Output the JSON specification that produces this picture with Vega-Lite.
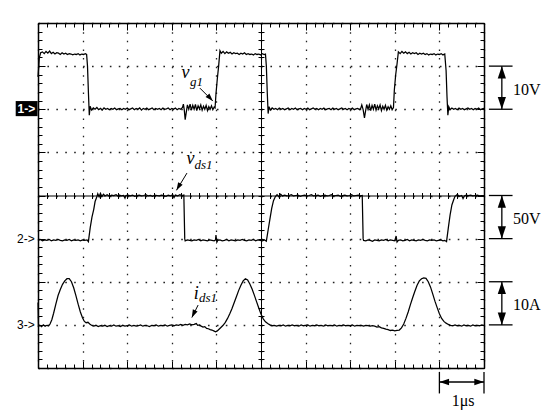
{
"$schema": "https://vega.github.io/schema/vega-lite/v6.json",
"width": 446, "height": 345,
"autosize": {"type": "none"},
"padding": {"left": 38, "top": 23, "right": 66, "bottom": 48},
"background": "white",
"config": {
  "view": {"stroke": null},
  "axis": {"labels": false, "title": null, "grid": false, "domainColor": "black", "tickColor": "black", "gridColor": "#222", "tickWidth": 1, "domainWidth": 1.5},
  "line": {"color": "black", "strokeWidth": 1.25}
},
"datasets": {
  "g": [{"t":0,"v":6.75},{"t":0.03,"v":7.2},{"t":0.06,"v":7.31},{"t":0.1,"v":7.33},{"t":0.14,"v":7.29},{"t":0.18,"v":7.34},{"t":0.22,"v":7.3},{"t":0.26,"v":7.35},{"t":0.3,"v":7.29},{"t":0.34,"v":7.32},{"t":0.38,"v":7.28},{"t":0.42,"v":7.31},{"t":0.46,"v":7.3},{"t":0.5,"v":7.27},{"t":0.54,"v":7.31},{"t":0.58,"v":7.28},{"t":0.62,"v":7.3},{"t":0.66,"v":7.27},{"t":0.7,"v":7.29},{"t":0.74,"v":7.28},{"t":0.78,"v":7.26},{"t":0.82,"v":7.28},{"t":0.86,"v":7.27},{"t":0.9,"v":7.29},{"t":0.94,"v":7.26},{"t":0.98,"v":7.28},{"t":1.02,"v":7.27},{"t":1.06,"v":7.29},{"t":1.09,"v":7.27},{"t":1.11,"v":7.0},{"t":1.13,"v":6.4},{"t":1.15,"v":5.86},{"t":1.17,"v":6.07},{"t":1.2,"v":5.98},{"t":1.24,"v":6.03},{"t":1.28,"v":6.0},{"t":1.32,"v":6.04},{"t":1.36,"v":5.99},{"t":1.4,"v":6.02},{"t":1.44,"v":5.98},{"t":1.48,"v":6.03},{"t":1.52,"v":6.0},{"t":1.56,"v":6.02},{"t":1.6,"v":5.99},{"t":1.64,"v":6.02},{"t":1.68,"v":6.0},{"t":1.72,"v":6.03},{"t":1.76,"v":5.99},{"t":1.8,"v":6.01},{"t":1.84,"v":6.02},{"t":1.88,"v":5.99},{"t":1.92,"v":6.02},{"t":1.96,"v":6.0},{"t":2.0,"v":6.03},{"t":2.04,"v":5.99},{"t":2.08,"v":6.01},{"t":2.12,"v":6.03},{"t":2.16,"v":5.99},{"t":2.2,"v":6.02},{"t":2.24,"v":6.0},{"t":2.28,"v":6.03},{"t":2.32,"v":5.98},{"t":2.36,"v":6.02},{"t":2.4,"v":6.0},{"t":2.44,"v":6.03},{"t":2.48,"v":5.99},{"t":2.52,"v":6.01},{"t":2.56,"v":6.03},{"t":2.6,"v":5.99},{"t":2.64,"v":6.02},{"t":2.68,"v":6.0},{"t":2.72,"v":6.02},{"t":2.76,"v":5.99},{"t":2.8,"v":6.03},{"t":2.84,"v":6.0},{"t":2.88,"v":6.01},{"t":2.92,"v":6.03},{"t":2.96,"v":5.99},{"t":3.0,"v":6.02},{"t":3.04,"v":6.0},{"t":3.08,"v":6.03},{"t":3.12,"v":5.99},{"t":3.16,"v":6.02},{"t":3.2,"v":6.0},{"t":3.24,"v":6.04},{"t":3.26,"v":6.12},{"t":3.28,"v":5.98},{"t":3.3,"v":5.76},{"t":3.32,"v":5.9},{"t":3.35,"v":6.1},{"t":3.38,"v":6.0},{"t":3.41,"v":6.12},{"t":3.44,"v":5.98},{"t":3.47,"v":6.09},{"t":3.5,"v":6.0},{"t":3.53,"v":6.11},{"t":3.56,"v":5.97},{"t":3.59,"v":6.08},{"t":3.62,"v":6.01},{"t":3.65,"v":6.1},{"t":3.68,"v":5.98},{"t":3.71,"v":6.07},{"t":3.74,"v":6.0},{"t":3.77,"v":6.09},{"t":3.8,"v":5.97},{"t":3.83,"v":6.06},{"t":3.86,"v":6.0},{"t":3.89,"v":6.08},{"t":3.92,"v":5.99},{"t":3.95,"v":6.05},{"t":3.97,"v":6.03},{"t":3.99,"v":6.35},{"t":4.02,"v":6.7},{"t":4.05,"v":7.0},{"t":4.08,"v":7.36},{"t":4.11,"v":7.3},{"t":4.15,"v":7.34},{"t":4.19,"v":7.29},{"t":4.23,"v":7.33},{"t":4.27,"v":7.3},{"t":4.31,"v":7.32},{"t":4.35,"v":7.28},{"t":4.39,"v":7.31},{"t":4.43,"v":7.29},{"t":4.47,"v":7.3},{"t":4.51,"v":7.27},{"t":4.55,"v":7.3},{"t":4.59,"v":7.28},{"t":4.63,"v":7.31},{"t":4.67,"v":7.27},{"t":4.71,"v":7.29},{"t":4.75,"v":7.27},{"t":4.79,"v":7.28},{"t":4.83,"v":7.26},{"t":4.87,"v":7.29},{"t":4.91,"v":7.27},{"t":4.95,"v":7.28},{"t":4.99,"v":7.26},{"t":5.03,"v":7.29},{"t":5.07,"v":7.27},{"t":5.1,"v":7.28},{"t":5.12,"v":7.0},{"t":5.14,"v":6.4},{"t":5.16,"v":5.9},{"t":5.18,"v":6.06},{"t":5.21,"v":5.98},{"t":5.25,"v":6.03},{"t":5.29,"v":6.0},{"t":5.33,"v":6.02},{"t":5.37,"v":5.99},{"t":5.41,"v":6.03},{"t":5.45,"v":6.0},{"t":5.49,"v":6.02},{"t":5.53,"v":5.99},{"t":5.57,"v":6.01},{"t":5.61,"v":6.03},{"t":5.65,"v":5.99},{"t":5.69,"v":6.02},{"t":5.73,"v":6.0},{"t":5.77,"v":6.03},{"t":5.81,"v":5.99},{"t":5.85,"v":6.01},{"t":5.89,"v":6.02},{"t":5.93,"v":5.99},{"t":5.97,"v":6.02},{"t":6.01,"v":6.0},{"t":6.05,"v":6.03},{"t":6.09,"v":5.99},{"t":6.13,"v":6.01},{"t":6.17,"v":6.03},{"t":6.21,"v":6.0},{"t":6.25,"v":6.02},{"t":6.29,"v":5.99},{"t":6.33,"v":6.02},{"t":6.37,"v":6.0},{"t":6.41,"v":6.03},{"t":6.45,"v":5.99},{"t":6.49,"v":6.01},{"t":6.53,"v":6.02},{"t":6.57,"v":5.99},{"t":6.61,"v":6.03},{"t":6.65,"v":6.0},{"t":6.69,"v":6.02},{"t":6.73,"v":5.99},{"t":6.77,"v":6.01},{"t":6.81,"v":6.03},{"t":6.85,"v":6.0},{"t":6.89,"v":6.02},{"t":6.93,"v":5.99},{"t":6.97,"v":6.02},{"t":7.01,"v":6.0},{"t":7.05,"v":6.03},{"t":7.09,"v":5.99},{"t":7.13,"v":6.01},{"t":7.17,"v":6.02},{"t":7.21,"v":5.99},{"t":7.24,"v":6.03},{"t":7.26,"v":6.1},{"t":7.29,"v":5.99},{"t":7.32,"v":5.8},{"t":7.34,"v":5.93},{"t":7.37,"v":6.11},{"t":7.4,"v":6.0},{"t":7.43,"v":6.1},{"t":7.46,"v":5.97},{"t":7.49,"v":6.09},{"t":7.52,"v":6.0},{"t":7.55,"v":6.12},{"t":7.58,"v":5.98},{"t":7.61,"v":6.08},{"t":7.64,"v":6.01},{"t":7.67,"v":6.1},{"t":7.7,"v":5.97},{"t":7.73,"v":6.07},{"t":7.76,"v":6.0},{"t":7.79,"v":6.09},{"t":7.82,"v":5.98},{"t":7.85,"v":6.06},{"t":7.88,"v":6.0},{"t":7.91,"v":6.08},{"t":7.94,"v":5.99},{"t":7.97,"v":6.04},{"t":7.99,"v":6.45},{"t":8.02,"v":6.8},{"t":8.05,"v":7.05},{"t":8.08,"v":7.33},{"t":8.12,"v":7.29},{"t":8.16,"v":7.34},{"t":8.2,"v":7.3},{"t":8.24,"v":7.33},{"t":8.28,"v":7.29},{"t":8.32,"v":7.32},{"t":8.36,"v":7.28},{"t":8.4,"v":7.31},{"t":8.44,"v":7.29},{"t":8.48,"v":7.31},{"t":8.52,"v":7.27},{"t":8.56,"v":7.3},{"t":8.6,"v":7.28},{"t":8.64,"v":7.3},{"t":8.68,"v":7.27},{"t":8.72,"v":7.29},{"t":8.76,"v":7.26},{"t":8.8,"v":7.28},{"t":8.84,"v":7.27},{"t":8.88,"v":7.29},{"t":8.92,"v":7.26},{"t":8.96,"v":7.28},{"t":9.0,"v":7.27},{"t":9.04,"v":7.29},{"t":9.08,"v":7.26},{"t":9.12,"v":7.28},{"t":9.15,"v":6.9},{"t":9.17,"v":6.3},{"t":9.19,"v":5.86},{"t":9.21,"v":6.06},{"t":9.24,"v":5.99},{"t":9.28,"v":6.03},{"t":9.32,"v":6.0},{"t":9.36,"v":6.02},{"t":9.4,"v":5.99},{"t":9.44,"v":6.03},{"t":9.48,"v":6.0},{"t":9.52,"v":6.02},{"t":9.56,"v":5.99},{"t":9.6,"v":6.01},{"t":9.64,"v":6.03},{"t":9.68,"v":6.0},{"t":9.72,"v":6.02},{"t":9.76,"v":5.99},{"t":9.8,"v":6.02},{"t":9.84,"v":6.0},{"t":9.88,"v":6.03},{"t":9.92,"v":5.99},{"t":9.96,"v":6.01},{"t":10,"v":6.02}],
  "d": [{"t":0,"v":2.96},{"t":0.05,"v":2.98},{"t":0.1,"v":2.95},{"t":0.15,"v":2.97},{"t":0.2,"v":2.96},{"t":0.25,"v":2.98},{"t":0.3,"v":2.95},{"t":0.35,"v":2.97},{"t":0.4,"v":2.96},{"t":0.45,"v":2.98},{"t":0.5,"v":2.96},{"t":0.55,"v":2.95},{"t":0.6,"v":2.97},{"t":0.65,"v":2.96},{"t":0.7,"v":2.98},{"t":0.75,"v":2.95},{"t":0.8,"v":2.97},{"t":0.85,"v":2.96},{"t":0.9,"v":2.97},{"t":0.95,"v":2.95},{"t":1.0,"v":2.97},{"t":1.05,"v":2.96},{"t":1.1,"v":2.97},{"t":1.13,"v":2.93},{"t":1.17,"v":3.25},{"t":1.21,"v":3.5},{"t":1.25,"v":3.68},{"t":1.28,"v":3.86},{"t":1.31,"v":3.94},{"t":1.34,"v":4.04},{"t":1.37,"v":3.97},{"t":1.4,"v":4.05},{"t":1.43,"v":3.98},{"t":1.47,"v":4.03},{"t":1.5,"v":3.99},{"t":1.55,"v":4.02},{"t":1.6,"v":3.98},{"t":1.65,"v":4.01},{"t":1.7,"v":4.0},{"t":1.75,"v":4.02},{"t":1.8,"v":3.98},{"t":1.82,"v":4.01},{"t":1.87,"v":3.99},{"t":1.92,"v":4.0},{"t":1.95,"v":3.94},{"t":1.97,"v":4.0},{"t":2.02,"v":4.01},{"t":2.07,"v":3.99},{"t":2.12,"v":4.01},{"t":2.17,"v":3.98},{"t":2.22,"v":4.0},{"t":2.27,"v":4.01},{"t":2.32,"v":3.99},{"t":2.37,"v":4.0},{"t":2.42,"v":4.02},{"t":2.47,"v":3.99},{"t":2.52,"v":4.0},{"t":2.57,"v":3.98},{"t":2.62,"v":4.01},{"t":2.67,"v":4.0},{"t":2.72,"v":3.99},{"t":2.77,"v":4.01},{"t":2.82,"v":4.0},{"t":2.87,"v":3.98},{"t":2.92,"v":4.01},{"t":2.97,"v":3.99},{"t":3.02,"v":4.02},{"t":3.05,"v":3.95},{"t":3.08,"v":4.01},{"t":3.13,"v":3.99},{"t":3.18,"v":4.02},{"t":3.22,"v":4.0},{"t":3.27,"v":4.01},{"t":3.29,"v":3.0},{"t":3.3,"v":2.95},{"t":3.35,"v":2.97},{"t":3.4,"v":2.96},{"t":3.45,"v":2.95},{"t":3.5,"v":2.97},{"t":3.55,"v":2.96},{"t":3.6,"v":2.98},{"t":3.65,"v":2.95},{"t":3.7,"v":2.97},{"t":3.75,"v":2.96},{"t":3.8,"v":2.95},{"t":3.85,"v":2.97},{"t":3.9,"v":2.96},{"t":3.95,"v":2.95},{"t":3.98,"v":2.97},{"t":3.99,"v":3.08},{"t":4.01,"v":2.92},{"t":4.03,"v":2.96},{"t":4.08,"v":2.97},{"t":4.13,"v":2.95},{"t":4.18,"v":2.96},{"t":4.23,"v":2.98},{"t":4.28,"v":2.95},{"t":4.33,"v":2.97},{"t":4.38,"v":2.96},{"t":4.43,"v":2.95},{"t":4.48,"v":2.97},{"t":4.53,"v":2.96},{"t":4.58,"v":2.98},{"t":4.63,"v":2.96},{"t":4.68,"v":2.95},{"t":4.73,"v":2.97},{"t":4.78,"v":2.96},{"t":4.83,"v":2.98},{"t":4.88,"v":2.95},{"t":4.93,"v":2.97},{"t":4.98,"v":2.96},{"t":5.03,"v":2.95},{"t":5.08,"v":2.97},{"t":5.12,"v":2.94},{"t":5.16,"v":3.2},{"t":5.2,"v":3.45},{"t":5.24,"v":3.7},{"t":5.28,"v":3.88},{"t":5.32,"v":3.97},{"t":5.36,"v":4.02},{"t":5.4,"v":3.97},{"t":5.44,"v":4.03},{"t":5.48,"v":3.99},{"t":5.53,"v":4.01},{"t":5.58,"v":3.99},{"t":5.63,"v":4.0},{"t":5.68,"v":4.02},{"t":5.73,"v":3.99},{"t":5.78,"v":4.0},{"t":5.83,"v":4.01},{"t":5.88,"v":3.98},{"t":5.93,"v":4.0},{"t":5.98,"v":4.01},{"t":6.03,"v":3.99},{"t":6.08,"v":4.0},{"t":6.13,"v":4.02},{"t":6.18,"v":3.99},{"t":6.23,"v":4.0},{"t":6.28,"v":4.01},{"t":6.33,"v":3.98},{"t":6.38,"v":4.0},{"t":6.43,"v":4.01},{"t":6.48,"v":3.99},{"t":6.53,"v":4.0},{"t":6.58,"v":4.02},{"t":6.63,"v":3.99},{"t":6.68,"v":4.0},{"t":6.73,"v":4.01},{"t":6.78,"v":3.98},{"t":6.83,"v":4.0},{"t":6.88,"v":4.01},{"t":6.93,"v":3.99},{"t":6.98,"v":4.0},{"t":7.03,"v":4.02},{"t":7.08,"v":3.99},{"t":7.13,"v":4.0},{"t":7.18,"v":4.01},{"t":7.23,"v":3.99},{"t":7.27,"v":4.0},{"t":7.29,"v":3.0},{"t":7.3,"v":2.96},{"t":7.35,"v":2.95},{"t":7.4,"v":2.97},{"t":7.45,"v":2.96},{"t":7.5,"v":2.94},{"t":7.55,"v":2.97},{"t":7.6,"v":2.96},{"t":7.65,"v":2.95},{"t":7.7,"v":2.97},{"t":7.75,"v":2.96},{"t":7.8,"v":2.98},{"t":7.85,"v":2.95},{"t":7.9,"v":2.97},{"t":7.95,"v":2.96},{"t":8.0,"v":2.95},{"t":8.03,"v":3.06},{"t":8.05,"v":2.92},{"t":8.08,"v":2.96},{"t":8.13,"v":2.97},{"t":8.18,"v":2.95},{"t":8.23,"v":2.96},{"t":8.28,"v":2.98},{"t":8.33,"v":2.95},{"t":8.38,"v":2.97},{"t":8.43,"v":2.96},{"t":8.48,"v":2.95},{"t":8.53,"v":2.97},{"t":8.58,"v":2.96},{"t":8.63,"v":2.98},{"t":8.68,"v":2.96},{"t":8.73,"v":2.95},{"t":8.78,"v":2.97},{"t":8.83,"v":2.96},{"t":8.88,"v":2.97},{"t":8.93,"v":2.95},{"t":8.98,"v":2.96},{"t":9.03,"v":2.97},{"t":9.08,"v":2.95},{"t":9.12,"v":2.96},{"t":9.16,"v":2.93},{"t":9.2,"v":3.25},{"t":9.24,"v":3.55},{"t":9.28,"v":3.78},{"t":9.32,"v":3.9},{"t":9.35,"v":3.98},{"t":9.4,"v":4.02},{"t":9.45,"v":3.98},{"t":9.5,"v":4.0},{"t":9.53,"v":3.93},{"t":9.56,"v":3.99},{"t":9.6,"v":4.01},{"t":9.65,"v":4.0},{"t":9.7,"v":4.01},{"t":9.75,"v":3.99},{"t":9.8,"v":4.0},{"t":9.85,"v":4.01},{"t":9.9,"v":3.99},{"t":9.95,"v":4.0},{"t":10,"v":4.0}],
  "i": [{"t":0,"v":1.52},{"t":0.01,"v":0.97},{"t":0.04,"v":0.99},{"t":0.08,"v":0.96},{"t":0.12,"v":1.0},{"t":0.16,"v":0.97},{"t":0.2,"v":0.99},{"t":0.24,"v":0.98},{"t":0.27,"v":1.02},{"t":0.31,"v":1.12},{"t":0.35,"v":1.27},{"t":0.4,"v":1.48},{"t":0.45,"v":1.68},{"t":0.5,"v":1.82},{"t":0.55,"v":1.94},{"t":0.6,"v":2.02},{"t":0.65,"v":2.07},{"t":0.7,"v":2.07},{"t":0.75,"v":2.0},{"t":0.8,"v":1.86},{"t":0.85,"v":1.68},{"t":0.9,"v":1.48},{"t":0.95,"v":1.3},{"t":1.0,"v":1.16},{"t":1.04,"v":1.08},{"t":1.08,"v":1.05},{"t":1.12,"v":1.06},{"t":1.16,"v":1.02},{"t":1.2,"v":0.99},{"t":1.25,"v":0.97},{"t":1.3,"v":0.99},{"t":1.35,"v":0.96},{"t":1.4,"v":0.98},{"t":1.45,"v":0.97},{"t":1.5,"v":0.99},{"t":1.55,"v":0.96},{"t":1.6,"v":0.98},{"t":1.65,"v":0.97},{"t":1.7,"v":1.0},{"t":1.75,"v":0.97},{"t":1.8,"v":0.98},{"t":1.85,"v":0.96},{"t":1.9,"v":0.99},{"t":1.95,"v":0.97},{"t":2.0,"v":0.98},{"t":2.05,"v":1.0},{"t":2.1,"v":0.97},{"t":2.15,"v":0.99},{"t":2.2,"v":0.97},{"t":2.25,"v":0.98},{"t":2.3,"v":1.0},{"t":2.35,"v":0.97},{"t":2.4,"v":0.99},{"t":2.45,"v":0.98},{"t":2.5,"v":0.96},{"t":2.55,"v":0.99},{"t":2.6,"v":0.98},{"t":2.65,"v":1.0},{"t":2.7,"v":0.97},{"t":2.75,"v":0.99},{"t":2.8,"v":0.98},{"t":2.85,"v":1.0},{"t":2.9,"v":0.97},{"t":2.95,"v":0.99},{"t":3.0,"v":1.0},{"t":3.05,"v":0.98},{"t":3.1,"v":1.0},{"t":3.15,"v":0.99},{"t":3.2,"v":1.01},{"t":3.25,"v":0.99},{"t":3.3,"v":1.01},{"t":3.35,"v":1.0},{"t":3.4,"v":1.02},{"t":3.45,"v":1.0},{"t":3.5,"v":1.01},{"t":3.55,"v":1.03},{"t":3.58,"v":0.99},{"t":3.62,"v":1.0},{"t":3.66,"v":0.97},{"t":3.7,"v":0.95},{"t":3.74,"v":0.96},{"t":3.78,"v":0.92},{"t":3.82,"v":0.91},{"t":3.86,"v":0.89},{"t":3.9,"v":0.88},{"t":3.94,"v":0.86},{"t":3.98,"v":0.84},{"t":4.02,"v":0.86},{"t":4.06,"v":0.9},{"t":4.1,"v":0.94},{"t":4.15,"v":0.99},{"t":4.2,"v":1.06},{"t":4.25,"v":1.15},{"t":4.3,"v":1.26},{"t":4.35,"v":1.38},{"t":4.4,"v":1.52},{"t":4.45,"v":1.66},{"t":4.5,"v":1.8},{"t":4.55,"v":1.92},{"t":4.6,"v":2.02},{"t":4.65,"v":2.07},{"t":4.7,"v":2.04},{"t":4.75,"v":1.95},{"t":4.8,"v":1.83},{"t":4.85,"v":1.69},{"t":4.9,"v":1.54},{"t":4.95,"v":1.39},{"t":5.0,"v":1.25},{"t":5.05,"v":1.14},{"t":5.1,"v":1.07},{"t":5.15,"v":1.03},{"t":5.2,"v":1.0},{"t":5.25,"v":0.98},{"t":5.3,"v":0.99},{"t":5.35,"v":0.97},{"t":5.4,"v":0.99},{"t":5.45,"v":0.98},{"t":5.5,"v":1.0},{"t":5.55,"v":0.97},{"t":5.6,"v":0.99},{"t":5.65,"v":0.98},{"t":5.7,"v":1.0},{"t":5.75,"v":0.98},{"t":5.8,"v":0.99},{"t":5.85,"v":0.97},{"t":5.9,"v":1.0},{"t":5.95,"v":0.98},{"t":6.0,"v":0.99},{"t":6.05,"v":1.0},{"t":6.1,"v":0.97},{"t":6.15,"v":0.99},{"t":6.2,"v":0.98},{"t":6.25,"v":1.0},{"t":6.3,"v":0.98},{"t":6.35,"v":0.99},{"t":6.4,"v":0.97},{"t":6.45,"v":1.0},{"t":6.5,"v":0.98},{"t":6.55,"v":0.99},{"t":6.6,"v":0.98},{"t":6.65,"v":1.0},{"t":6.7,"v":0.97},{"t":6.75,"v":0.99},{"t":6.8,"v":0.98},{"t":6.85,"v":1.0},{"t":6.9,"v":0.98},{"t":6.95,"v":0.99},{"t":7.0,"v":0.98},{"t":7.05,"v":1.0},{"t":7.1,"v":0.97},{"t":7.15,"v":0.99},{"t":7.2,"v":0.98},{"t":7.25,"v":0.99},{"t":7.3,"v":0.97},{"t":7.35,"v":0.99},{"t":7.4,"v":0.98},{"t":7.45,"v":0.97},{"t":7.5,"v":0.98},{"t":7.55,"v":0.97},{"t":7.6,"v":0.95},{"t":7.65,"v":0.96},{"t":7.7,"v":0.93},{"t":7.75,"v":0.92},{"t":7.8,"v":0.9},{"t":7.85,"v":0.89},{"t":7.9,"v":0.87},{"t":7.95,"v":0.88},{"t":8.0,"v":0.86},{"t":8.05,"v":0.87},{"t":8.1,"v":0.88},{"t":8.15,"v":0.93},{"t":8.2,"v":1.02},{"t":8.25,"v":1.15},{"t":8.3,"v":1.3},{"t":8.35,"v":1.47},{"t":8.4,"v":1.63},{"t":8.45,"v":1.78},{"t":8.5,"v":1.92},{"t":8.55,"v":2.02},{"t":8.6,"v":2.07},{"t":8.65,"v":2.09},{"t":8.7,"v":2.08},{"t":8.75,"v":2.0},{"t":8.8,"v":1.88},{"t":8.85,"v":1.72},{"t":8.9,"v":1.55},{"t":8.95,"v":1.4},{"t":9.0,"v":1.26},{"t":9.05,"v":1.15},{"t":9.1,"v":1.08},{"t":9.15,"v":1.04},{"t":9.2,"v":1.01},{"t":9.25,"v":0.99},{"t":9.3,"v":0.98},{"t":9.35,"v":1.0},{"t":9.4,"v":0.98},{"t":9.45,"v":0.99},{"t":9.5,"v":0.97},{"t":9.55,"v":1.0},{"t":9.6,"v":0.98},{"t":9.65,"v":0.99},{"t":9.7,"v":0.97},{"t":9.75,"v":1.0},{"t":9.8,"v":0.98},{"t":9.85,"v":0.99},{"t":9.9,"v":0.98},{"t":9.95,"v":1.0},{"t":10,"v":0.99}],
  "main": [{"s":"v","t":3.22,"v":6.72},{"s":"v","t":3.33,"v":4.72},{"s":"i","t":3.49,"v":1.6}],
  "subs": [{"s":"g1","t":3.41,"v":6.53},{"s":"ds1","t":3.51,"v":4.62},{"s":"ds1","t":3.61,"v":1.54}],
  "arrows": [{"n":"g","x":3.63,"y":6.49,"x2":3.92,"y2":6.19},{"n":"d","x":3.34,"y":4.52,"x2":3.105,"y2":4.12},{"n":"i","x":3.59,"y":1.46,"x2":3.45,"y2":1.17}],
  "bars": [{"lab":"10V","lo":6,"hi":7},{"lab":"50V","lo":3,"hi":4},{"lab":"10A","lo":1,"hi":2}],
  "chans": [{"lab":"2->","v":3},{"lab":"3->","v":1}]
},
"resolve": {"axis": {"x": "independent", "y": "independent"}},
"layer": [
  {"data": {"name": "g"}, "mark": {"type": "line"},
   "encoding": {
     "x": {"field": "t", "type": "quantitative", "scale": {"domain": [0, 10], "nice": false, "zero": false},
           "axis": {"orient": "bottom", "values": [0,1,2,3,4,5,6,7,8,9,10], "grid": true, "gridDash": [1.6, 7.025], "gridWidth": 1.3, "ticks": true, "tickSize": -7, "domain": true}},
     "y": {"field": "v", "type": "quantitative", "scale": {"domain": [0, 8], "nice": false, "zero": false},
           "axis": {"orient": "left", "values": [0,1,2,3,4,5,6,7,8], "grid": true, "gridDash": [1.6, 7.32], "gridWidth": 1.3, "ticks": true, "tickSize": -7, "domain": true}}}},
  {"data": {"name": "d"}, "mark": {"type": "line"},
   "encoding": {
     "x": {"field": "t", "type": "quantitative", "scale": {"domain": [0, 10], "nice": false, "zero": false},
           "axis": {"orient": "bottom", "values": [0,0.2,0.4,0.6,0.8,1,1.2,1.4,1.6,1.8,2,2.2,2.4,2.6,2.8,3,3.2,3.4,3.6,3.8,4,4.2,4.4,4.6,4.8,5,5.2,5.4,5.6,5.8,6,6.2,6.4,6.6,6.8,7,7.2,7.4,7.6,7.8,8,8.2,8.4,8.6,8.8,9,9.2,9.4,9.6,9.8,10], "tickSize": -4, "domain": false}},
     "y": {"field": "v", "type": "quantitative", "scale": {"domain": [0, 8], "nice": false, "zero": false},
           "axis": {"orient": "left", "values": [0,0.2,0.4,0.6,0.8,1,1.2,1.4,1.6,1.8,2,2.2,2.4,2.6,2.8,3,3.2,3.4,3.6,3.8,4,4.2,4.4,4.6,4.8,5,5.2,5.4,5.6,5.8,6,6.2,6.4,6.6,6.8,7,7.2,7.4,7.6,7.8,8], "tickSize": -4, "domain": false}}}},
  {"data": {"name": "i"}, "mark": {"type": "line"},
   "encoding": {
     "x": {"field": "t", "type": "quantitative", "scale": {"domain": [0, 10], "nice": false, "zero": false},
           "axis": {"orient": "top", "values": [0,0.2,0.4,0.6,0.8,1,1.2,1.4,1.6,1.8,2,2.2,2.4,2.6,2.8,3,3.2,3.4,3.6,3.8,4,4.2,4.4,4.6,4.8,5,5.2,5.4,5.6,5.8,6,6.2,6.4,6.6,6.8,7,7.2,7.4,7.6,7.8,8,8.2,8.4,8.6,8.8,9,9.2,9.4,9.6,9.8,10], "tickSize": -4, "domain": true}},
     "y": {"field": "v", "type": "quantitative", "scale": {"domain": [0, 8], "nice": false, "zero": false},
           "axis": {"orient": "right", "values": [0,0.2,0.4,0.6,0.8,1,1.2,1.4,1.6,1.8,2,2.2,2.4,2.6,2.8,3,3.2,3.4,3.6,3.8,4,4.2,4.4,4.6,4.8,5,5.2,5.4,5.6,5.8,6,6.2,6.4,6.6,6.8,7,7.2,7.4,7.6,7.8,8], "tickSize": -4, "domain": true}}}},
  {"data": {"name": "main"}, "mark": {"type": "text", "font": "Liberation Serif", "fontStyle": "italic", "fontSize": 18, "align": "left", "baseline": "alphabetic", "color": "black"},
   "encoding": {
     "text": {"field": "s"},
     "x": {"field": "t", "type": "quantitative", "scale": {"domain": [0, 10], "nice": false, "zero": false},
           "axis": {"orient": "bottom", "offset": -172.5, "values": [0,0.2,0.4,0.6,0.8,1,1.2,1.4,1.6,1.8,2,2.2,2.4,2.6,2.8,3,3.2,3.4,3.6,3.8,4,4.2,4.4,4.6,4.8,5,5.2,5.4,5.6,5.8,6,6.2,6.4,6.6,6.8,7,7.2,7.4,7.6,7.8,8,8.2,8.4,8.6,8.8,9,9.2,9.4,9.6,9.8,10], "tickSize": 3, "domain": true, "domainWidth": 1}},
     "y": {"field": "v", "type": "quantitative", "scale": {"domain": [0, 8], "nice": false, "zero": false},
           "axis": {"orient": "left", "offset": -223, "values": [0,0.2,0.4,0.6,0.8,1,1.2,1.4,1.6,1.8,2,2.2,2.4,2.6,2.8,3,3.2,3.4,3.6,3.8,4,4.2,4.4,4.6,4.8,5,5.2,5.4,5.6,5.8,6,6.2,6.4,6.6,6.8,7,7.2,7.4,7.6,7.8,8], "tickSize": 3, "domain": true, "domainWidth": 1}}}},
  {"data": {"name": "subs"}, "mark": {"type": "text", "font": "Liberation Serif", "fontStyle": "italic", "fontSize": 13, "align": "left", "baseline": "alphabetic", "color": "black"},
   "encoding": {
     "text": {"field": "s"},
     "x": {"field": "t", "type": "quantitative", "scale": {"domain": [0, 10], "nice": false, "zero": false},
           "axis": {"orient": "bottom", "offset": -172.5, "values": [0,0.2,0.4,0.6,0.8,1,1.2,1.4,1.6,1.8,2,2.2,2.4,2.6,2.8,3,3.2,3.4,3.6,3.8,4,4.2,4.4,4.6,4.8,5,5.2,5.4,5.6,5.8,6,6.2,6.4,6.6,6.8,7,7.2,7.4,7.6,7.8,8,8.2,8.4,8.6,8.8,9,9.2,9.4,9.6,9.8,10], "tickSize": -3, "domain": false}},
     "y": {"field": "v", "type": "quantitative", "scale": {"domain": [0, 8], "nice": false, "zero": false},
           "axis": {"orient": "left", "offset": -223, "values": [0,0.2,0.4,0.6,0.8,1,1.2,1.4,1.6,1.8,2,2.2,2.4,2.6,2.8,3,3.2,3.4,3.6,3.8,4,4.2,4.4,4.6,4.8,5,5.2,5.4,5.6,5.8,6,6.2,6.4,6.6,6.8,7,7.2,7.4,7.6,7.8,8], "tickSize": -3, "domain": false}}}},
  {"data": {"name": "arrows"}, "mark": {"type": "rule", "color": "black", "strokeWidth": 1},
   "encoding": {
     "x": {"field": "x", "type": "quantitative", "scale": {"domain": [0, 10], "nice": false, "zero": false},
           "axis": {"orient": "top", "values": [0,1,2,3,4,5,6,7,8,9,10], "tickSize": -7, "domain": false}},
     "y": {"field": "y", "type": "quantitative", "scale": {"domain": [0, 8], "nice": false, "zero": false},
           "axis": {"orient": "right", "values": [0,1,2,3,4,5,6,7,8], "tickSize": -7, "domain": false}},
     "x2": {"field": "x2"}, "y2": {"field": "y2"}}},
  {"data": {"name": "arrows"}, "transform": [{"filter": "datum.n == 'g'"}],
   "mark": {"type": "point", "shape": "M0,0L-0.4,1.2L0.4,1.2Z", "filled": true, "color": "black", "opacity": 1, "size": 170, "angle": 137},
   "encoding": {
     "x": {"field": "x2", "type": "quantitative", "scale": {"domain": [0, 10], "nice": false, "zero": false}, "axis": null},
     "y": {"field": "y2", "type": "quantitative", "scale": {"domain": [0, 8], "nice": false, "zero": false}, "axis": null}}},
  {"data": {"name": "arrows"}, "transform": [{"filter": "datum.n == 'd'"}],
   "mark": {"type": "point", "shape": "M0,0L-0.4,1.2L0.4,1.2Z", "filled": true, "color": "black", "opacity": 1, "size": 170, "angle": 210},
   "encoding": {
     "x": {"field": "x2", "type": "quantitative", "scale": {"domain": [0, 10], "nice": false, "zero": false}, "axis": null},
     "y": {"field": "y2", "type": "quantitative", "scale": {"domain": [0, 8], "nice": false, "zero": false}, "axis": null}}},
  {"data": {"name": "arrows"}, "transform": [{"filter": "datum.n == 'i'"}],
   "mark": {"type": "point", "shape": "M0,0L-0.4,1.2L0.4,1.2Z", "filled": true, "color": "black", "opacity": 1, "size": 170, "angle": 205},
   "encoding": {
     "x": {"field": "x2", "type": "quantitative", "scale": {"domain": [0, 10], "nice": false, "zero": false}, "axis": null},
     "y": {"field": "y2", "type": "quantitative", "scale": {"domain": [0, 8], "nice": false, "zero": false}, "axis": null}}},
  {"data": {"name": "bars"}, "mark": {"type": "rule", "color": "black", "strokeWidth": 1.3},
   "encoding": {
     "x": {"datum": 10.4, "type": "quantitative", "scale": {"domain": [0, 10], "nice": false, "zero": false}, "axis": null},
     "y": {"field": "lo", "type": "quantitative", "scale": {"domain": [0, 8], "nice": false, "zero": false}, "axis": null},
     "y2": {"field": "hi"}}},
  {"data": {"name": "bars"}, "mark": {"type": "rule", "color": "black", "strokeWidth": 1.3},
   "encoding": {
     "x": {"datum": 10.11, "type": "quantitative", "scale": {"domain": [0, 10], "nice": false, "zero": false}, "axis": null},
     "x2": {"datum": 10.64},
     "y": {"field": "lo", "type": "quantitative", "scale": {"domain": [0, 8], "nice": false, "zero": false}, "axis": null}}},
  {"data": {"name": "bars"}, "mark": {"type": "rule", "color": "black", "strokeWidth": 1.3},
   "encoding": {
     "x": {"datum": 10.11, "type": "quantitative", "scale": {"domain": [0, 10], "nice": false, "zero": false}, "axis": null},
     "x2": {"datum": 10.64},
     "y": {"field": "hi", "type": "quantitative", "scale": {"domain": [0, 8], "nice": false, "zero": false}, "axis": null}}},
  {"data": {"name": "bars"}, "mark": {"type": "point", "shape": "M0,0L-0.4,1.2L0.4,1.2Z", "filled": true, "color": "black", "opacity": 1, "size": 420, "angle": 0},
   "encoding": {
     "x": {"datum": 10.4, "type": "quantitative", "scale": {"domain": [0, 10], "nice": false, "zero": false}, "axis": null},
     "y": {"field": "hi", "type": "quantitative", "scale": {"domain": [0, 8], "nice": false, "zero": false}, "axis": null}}},
  {"data": {"name": "bars"}, "mark": {"type": "point", "shape": "M0,0L-0.4,1.2L0.4,1.2Z", "filled": true, "color": "black", "opacity": 1, "size": 420, "angle": 180},
   "encoding": {
     "x": {"datum": 10.4, "type": "quantitative", "scale": {"domain": [0, 10], "nice": false, "zero": false}, "axis": null},
     "y": {"field": "lo", "type": "quantitative", "scale": {"domain": [0, 8], "nice": false, "zero": false}, "axis": null}}},
  {"data": {"name": "bars"}, "mark": {"type": "text", "font": "Liberation Serif", "fontSize": 16, "align": "left", "baseline": "alphabetic", "dy": -14.5, "color": "black"},
   "encoding": {
     "text": {"field": "lab"},
     "x": {"datum": 10.65, "type": "quantitative", "scale": {"domain": [0, 10], "nice": false, "zero": false}, "axis": null},
     "y": {"field": "lo", "type": "quantitative", "scale": {"domain": [0, 8], "nice": false, "zero": false}, "axis": null}}},
  {"data": {"values": [{}]}, "mark": {"type": "rule", "color": "black", "strokeWidth": 1.3},
   "encoding": {
     "x": {"datum": 9, "type": "quantitative", "scale": {"domain": [0, 10], "nice": false, "zero": false}, "axis": null},
     "x2": {"datum": 10},
     "y": {"datum": -0.325, "type": "quantitative", "scale": {"domain": [0, 8], "nice": false, "zero": false}, "axis": null}}},
  {"data": {"values": [{}]}, "mark": {"type": "rule", "color": "black", "strokeWidth": 1.3},
   "encoding": {
     "x": {"datum": 9, "type": "quantitative", "scale": {"domain": [0, 10], "nice": false, "zero": false}, "axis": null},
     "y": {"datum": -0.09, "type": "quantitative", "scale": {"domain": [0, 8], "nice": false, "zero": false}, "axis": null},
     "y2": {"datum": -0.59}}},
  {"data": {"values": [{}]}, "mark": {"type": "rule", "color": "black", "strokeWidth": 1.3},
   "encoding": {
     "x": {"datum": 10, "type": "quantitative", "scale": {"domain": [0, 10], "nice": false, "zero": false}, "axis": null},
     "y": {"datum": -0.09, "type": "quantitative", "scale": {"domain": [0, 8], "nice": false, "zero": false}, "axis": null},
     "y2": {"datum": -0.59}}},
  {"data": {"values": [{}]}, "mark": {"type": "point", "shape": "M0,0L-0.4,1.2L0.4,1.2Z", "filled": true, "color": "black", "opacity": 1, "size": 260, "angle": 270},
   "encoding": {
     "x": {"datum": 9, "type": "quantitative", "scale": {"domain": [0, 10], "nice": false, "zero": false}, "axis": null},
     "y": {"datum": -0.325, "type": "quantitative", "scale": {"domain": [0, 8], "nice": false, "zero": false}, "axis": null}}},
  {"data": {"values": [{}]}, "mark": {"type": "point", "shape": "M0,0L-0.4,1.2L0.4,1.2Z", "filled": true, "color": "black", "opacity": 1, "size": 260, "angle": 90},
   "encoding": {
     "x": {"datum": 10, "type": "quantitative", "scale": {"domain": [0, 10], "nice": false, "zero": false}, "axis": null},
     "y": {"datum": -0.325, "type": "quantitative", "scale": {"domain": [0, 8], "nice": false, "zero": false}, "axis": null}}},
  {"data": {"values": [{"lab": "1μs"}]}, "mark": {"type": "text", "font": "Liberation Serif", "fontSize": 16, "align": "center", "baseline": "alphabetic", "color": "black"},
   "encoding": {
     "text": {"field": "lab"},
     "x": {"datum": 9.53, "type": "quantitative", "scale": {"domain": [0, 10], "nice": false, "zero": false}, "axis": null},
     "y": {"datum": -0.87, "type": "quantitative", "scale": {"domain": [0, 8], "nice": false, "zero": false}, "axis": null}}},
  {"data": {"values": [{}]}, "mark": {"type": "rect", "color": "black"},
   "encoding": {
     "x": {"datum": -0.5, "type": "quantitative", "scale": {"domain": [0, 10], "nice": false, "zero": false}, "axis": null},
     "x2": {"datum": -0.01},
     "y": {"datum": 5.84, "type": "quantitative", "scale": {"domain": [0, 8], "nice": false, "zero": false}, "axis": null},
     "y2": {"datum": 6.19}}},
  {"data": {"values": [{"lab": "1->"}]}, "mark": {"type": "text", "font": "Liberation Sans", "fontSize": 12, "fontWeight": "bold", "align": "center", "baseline": "middle", "color": "white"},
   "encoding": {
     "text": {"field": "lab"},
     "x": {"datum": -0.26, "type": "quantitative", "scale": {"domain": [0, 10], "nice": false, "zero": false}, "axis": null},
     "y": {"datum": 6.0, "type": "quantitative", "scale": {"domain": [0, 8], "nice": false, "zero": false}, "axis": null}}},
  {"data": {"name": "chans"}, "mark": {"type": "text", "font": "Liberation Sans", "fontSize": 12, "align": "center", "baseline": "middle", "color": "black"},
   "encoding": {
     "text": {"field": "lab"},
     "x": {"datum": -0.27, "type": "quantitative", "scale": {"domain": [0, 10], "nice": false, "zero": false}, "axis": null},
     "y": {"field": "v", "type": "quantitative", "scale": {"domain": [0, 8], "nice": false, "zero": false}, "axis": null}}}
]
}
